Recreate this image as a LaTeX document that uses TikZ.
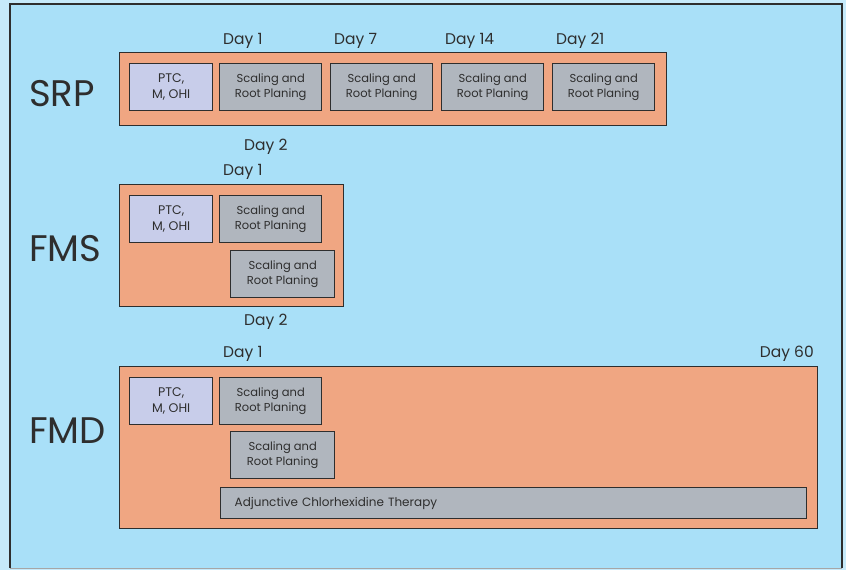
\documentclass[tikz,border=0pt]{standalone}
\usepackage{fontspec}
\setmainfont{Poppins}
\definecolor{outerbg}{HTML}{C6EAFA}
\definecolor{panel}{HTML}{A9E0F8}
\definecolor{orangebg}{HTML}{F0A682}
\definecolor{lav}{HTML}{C8CDEA}
\definecolor{grayb}{HTML}{B0B6BE}
\definecolor{ink}{HTML}{2E2E2E}
\begin{document}
\begin{tikzpicture}[x=1pt,y=-1pt,
  band/.style={draw=ink,line width=1.2pt,fill=orangebg,anchor=north west,inner sep=0pt},
  ptcbox/.style={draw=ink,line width=1.4pt,fill=lav,anchor=north west,inner sep=0pt,
    minimum width=83pt,minimum height=47pt,align=center,font=\fontsize{12.5}{15.5}\selectfont,text=ink},
  srpbox/.style={draw=ink,line width=1.4pt,fill=grayb,anchor=north west,inner sep=0pt,
    minimum width=102pt,minimum height=47pt,align=center,font=\fontsize{11.5}{15.5}\selectfont,text=ink},
  daylbl/.style={anchor=west,inner sep=0pt,font=\fontsize{15.5}{17}\selectfont,text=ink},
  biglbl/.style={anchor=west,inner sep=0pt,font=\fontsize{37}{40}\selectfont,text=ink}]
\useasboundingbox (0,0) rectangle (846,570);
\fill[outerbg] (0,0) rectangle (846,570);
\fill[panel] (10,4) rectangle (842,568);
\draw[ink,line width=1.3pt] (10,568) -- (10,4) -- (842,4) -- (842,568);
\draw[gray!70,line width=1pt] (10,568) -- (842,568);
% SRP
\node[biglbl] (srp) at (29,94) {SRP};
\node[band,minimum width=547pt,minimum height=73pt] (srpband) at (119,52) {};
\node[ptcbox] (p1) at (129,63) {PTC,\\M, OHI};
\node[srpbox] (s11) at (219,63) {Scaling and\\Root Planing};
\node[srpbox] (s12) at (330,63) {Scaling and\\Root Planing};
\node[srpbox] (s13) at (441,63) {Scaling and\\Root Planing};
\node[srpbox] (s14) at (552,63) {Scaling and\\Root Planing};
\node[daylbl] (d11) at (223,41) {Day 1};
\node[daylbl] (d12) at (334,41) {Day 7};
\node[daylbl] (d13) at (445,41) {Day 14};
\node[daylbl] (d14) at (556,41) {Day 21};
\node[daylbl] (d15) at (244,147) {Day 2};
% FMS
\node[biglbl] (fms) at (29,249) {FMS};
\node[daylbl] (d21) at (223,172) {Day 1};
\node[band,minimum width=224pt,minimum height=122pt] (fmsband) at (119,184) {};
\node[ptcbox] (p2) at (129,195) {PTC,\\M, OHI};
\node[srpbox] (s21) at (219,195) {Scaling and\\Root Planing};
\node[srpbox,minimum width=104pt] (s22) at (230,250) {Scaling and\\Root Planing};
\node[daylbl] (d22) at (244,322) {Day 2};
% FMD
\node[biglbl] (fmd) at (29,431) {FMD};
\node[daylbl] (d31) at (223,354) {Day 1};
\node[daylbl,anchor=east] (d32) at (814,354) {Day 60};
\node[band,minimum width=698pt,minimum height=162pt] (fmdband) at (119,366) {};
\node[ptcbox] (p3) at (129,377) {PTC,\\M, OHI};
\node[srpbox] (s31) at (219,377) {Scaling and\\Root Planing};
\node[srpbox,minimum width=104pt] (s32) at (230,431) {Scaling and\\Root Planing};
\node[srpbox,minimum width=586pt,minimum height=31pt,text width=558pt,align=left,font=\fontsize{12}{15}\selectfont] (chx) at (220,487) {Adjunctive Chlorhexidine Therapy};
\end{tikzpicture}
\end{document}
